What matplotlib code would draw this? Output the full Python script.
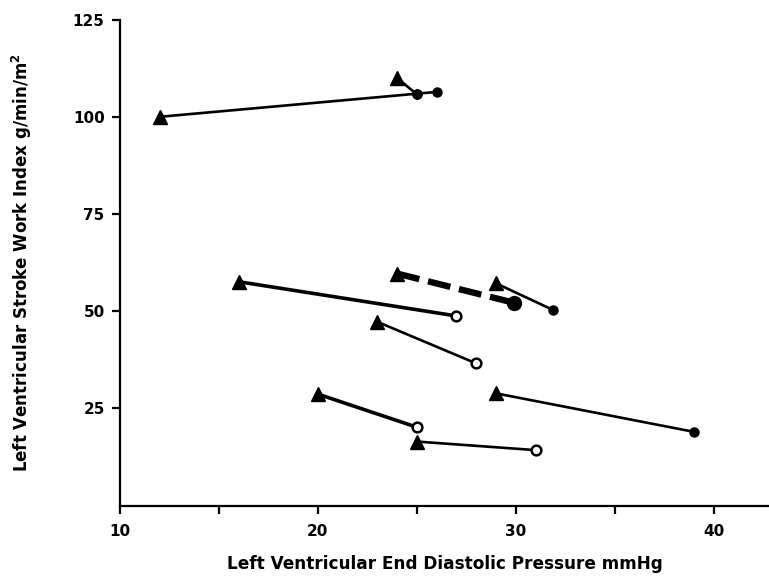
import matplotlib
matplotlib.use("Agg")
import matplotlib.pyplot as plt

plt.rcParams['font.family'] = ['DejaVu Sans']
plt.rcParams['font.weight'] = 'bold'

# each pair: before (triangle) -> after (circle)
lvedp_before = [12, 24, 16, 24, 29, 23, 20, 25, 29]
lvswi_before = [100, 110, 57.6, 59.7, 57.2, 47.3, 28.7, 16.5, 28.9]
lvedp_after = [26, 25, 27, 29.9, 31.9, 28, 25, 31, 39]
lvswi_after = [106.4, 105.8, 48.8, 52.2, 50.3, 36.6, 20.2, 14.3, 19.0]
after_kind = ['filled', 'filled', 'open', 'big', 'filled', 'open', 'open', 'open', 'filled']
line_kind = ['thin', 'thin', 'thick', 'dashed', 'thin', 'thin', 'thick', 'thin', 'thin']

# the small dot sitting on the first line (25, 106)
mid_x = [25]
mid_y = [105.8]

fig = plt.figure(figsize=(7.69, 5.76), dpi=100)
ax = fig.add_axes([0.156, 0.122, 0.844, 0.844])

for i in range(len(lvedp_before)):
    xs = [lvedp_before[i], lvedp_after[i]]
    ys = [lvswi_before[i], lvswi_after[i]]
    if line_kind[i] == 'dashed':
        ax.plot(xs, ys, color='black', lw=4.6, ls=(0, (3.6, 1.4)), dash_capstyle='butt', zorder=2)
    elif line_kind[i] == 'thick':
        ax.plot(xs, ys, color='black', lw=2.6, zorder=2)
    else:
        ax.plot(xs, ys, color='black', lw=1.9, zorder=2)
    ax.plot(xs[0], ys[0], marker='^', ms=10.5, color='black', zorder=3)
    k = after_kind[i]
    if k == 'open':
        ax.plot(xs[1], ys[1], marker='o', ms=7, mfc='white', mec='black', mew=1.8, zorder=3)
    elif k == 'big':
        ax.plot(xs[1], ys[1], marker='o', ms=10, color='black', zorder=3)
    else:
        ax.plot(xs[1], ys[1], marker='o', ms=6.5, color='black', zorder=3)

ax.plot(mid_x, mid_y, 'o', ms=6.5, color='black', zorder=3)

ax.set_xlim(10, 42.8)
ax.set_ylim(0, 125)
ax.spines['top'].set_visible(False)
ax.spines['right'].set_visible(False)
ax.spines['left'].set_linewidth(1.6)
ax.spines['bottom'].set_linewidth(1.6)
ax.spines['left'].set_bounds(0, 125)

ax.set_xticks([10, 20, 30, 40])
ax.set_xticks([15, 25, 35], minor=True)
ax.set_yticks([25, 50, 75, 100, 125])
ax.tick_params(axis='both', which='both', direction='out', length=6, width=1.6,
               labelsize=11)
ax.tick_params(axis='x', pad=7)
ax.tick_params(axis='y', pad=5)
for lab in ax.get_xticklabels() + ax.get_yticklabels():
    lab.set_fontweight('bold')

ax.set_xlabel('Left Ventricular End Diastolic Pressure mmHg', fontsize=12.2,
              fontweight='bold', labelpad=12)
ax.set_ylabel('Left Ventricular Stroke Work Index g/min/m$^\\mathbf{2}$', fontsize=12,
              fontweight='bold', labelpad=28)

fig.savefig('out.png', dpi=100)
